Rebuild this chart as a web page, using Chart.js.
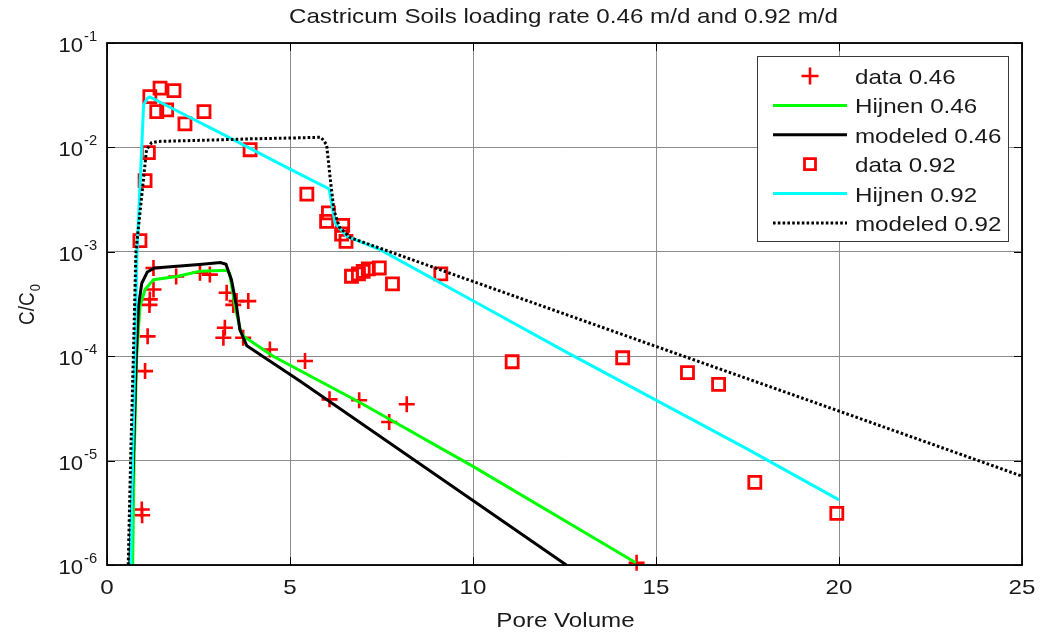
<!DOCTYPE html>
<html>
<head>
<meta charset="utf-8">
<title>Castricum Soils</title>
<script src="https://cdn.jsdelivr.net/npm/chart.js@4.4.1/dist/chart.umd.min.js"></script>
<style>
  html, body { margin: 0; padding: 0; background: #fff; }
  canvas { display: block; }
</style>
</head>
<body>
<canvas id="chart" width="1041" height="634"></canvas>
<script>
// measured breakthrough, loading rate 0.46 m/d
const data46X = [0.95, 0.96, 1.04, 1.11, 1.16, 1.17, 1.27, 1.27, 1.89, 2.54, 2.81, 3.18, 3.22, 3.27, 3.45, 3.54, 3.72, 3.86, 4.45, 5.41, 6.08, 6.89, 7.71, 8.19, 14.47];
const data46Y = [3.4e-6, 3.0e-6, 7.2e-5, 1.55e-4, 3.1e-4, 3.5e-4, 4.35e-4, 7.0e-4, 5.8e-4, 6.3e-4, 6.05e-4, 1.5e-4, 1.87e-4, 4.05e-4, 3.1e-4, 3.37e-4, 1.5e-4, 3.37e-4, 1.16e-4, 9.0e-5, 3.86e-5, 3.78e-5, 2.34e-5, 3.46e-5, 1.05e-6];

const hijnen46X = [0.70, 0.74, 0.81, 0.90, 1.04, 1.27, 1.9, 2.54, 3.27, 3.35, 3.5, 3.65, 3.72, 4.54, 6.91, 10.0, 14.45];
const hijnen46Y = [1e-6, 1e-5, 1e-4, 3.0e-4, 4.35e-4, 5.4e-4, 5.8e-4, 6.5e-4, 6.65e-4, 6.2e-4, 3.0e-4, 1.75e-4, 1.56e-4, 1.0e-4, 3.6e-5, 8.8e-6, 1.05e-6];

const model46X = [0.62, 0.72, 0.80, 0.86, 0.95, 1.1, 1.3, 2.0, 2.6, 3.1, 3.25, 3.4, 3.54, 3.63, 3.82, 5.27, 12.55];
const model46Y = [1e-6, 1e-5, 1e-4, 3.0e-4, 5.0e-4, 6.4e-4, 7.0e-4, 7.3e-4, 7.6e-4, 7.9e-4, 7.6e-4, 5.4e-4, 3.0e-4, 1.8e-4, 1.26e-4, 5.8e-5, 1e-6];

// measured breakthrough, loading rate 0.92 m/d
const data92X = [0.90, 1.04, 1.13, 1.17, 1.36, 1.45, 1.63, 1.83, 2.13, 2.65, 3.91, 5.46, 6.0, 6.05, 6.41, 6.44, 6.53, 6.68, 6.87, 7.0, 7.14, 7.44, 7.8, 9.12, 11.07, 14.09, 15.86, 16.71, 17.7, 19.94];
const data92Y = [1.28e-3, 4.8e-3, 8.9e-3, 0.0307, 0.022, 0.0369, 0.0229, 0.035, 0.0168, 0.022, 9.5e-3, 3.57e-3, 1.96e-3, 2.36e-3, 1.48e-3, 1.79e-3, 1.26e-3, 5.83e-4, 6.14e-4, 6.5e-4, 6.86e-4, 7.0e-4, 4.93e-4, 6.14e-4, 8.85e-5, 9.66e-5, 6.95e-5, 5.37e-5, 6.18e-6, 3.12e-6];

const hijnen92X = [0.65, 0.70, 0.76, 0.82, 0.95, 1.0, 1.1, 1.17, 2, 3, 4, 5, 6.07, 6.23, 6.55, 7.0, 7.46, 10, 12.5, 15, 17.5, 20];
const hijnen92Y = [1e-6, 1e-5, 1e-4, 1e-3, 1e-2, 0.0255, 0.0295, 0.0305, 0.0216, 0.0143, 9.4e-3, 6.2e-3, 4.0e-3, 1.89e-3, 1.41e-3, 1.22e-3, 1.05e-3, 3.4e-4, 1.12e-4, 3.8e-5, 1.29e-5, 4.2e-6];

const model92X = [0.58, 0.645, 0.72, 0.79, 1.08, 1.22, 1.4, 2, 3, 4, 5, 5.85, 6.0, 6.1, 6.2, 6.35, 6.64, 10, 15, 20, 25];
const model92Y = [1e-6, 1e-5, 1e-4, 1e-3, 9.5e-3, 0.0111, 0.0114, 0.01156, 0.0118, 0.0121, 0.0123, 0.0125, 0.0106, 5.0e-3, 2.5e-3, 1.72e-3, 1.37e-3, 5.2e-4, 1.24e-4, 2.98e-5, 7.1e-6];

const xTicks = [0, 5, 10, 15, 20, 25];
const yTicks = [1e-6, 1e-5, 1e-4, 1e-3, 1e-2, 1e-1];
const yExponents = ["-6", "-5", "-4", "-3", "-2", "-1"];

const titleText = "Castricum Soils loading rate 0.46 m/d and 0.92 m/d";
const xLabel = "Pore Volume";
const legendLabels = ["data 0.46", "Hijnen 0.46", "modeled 0.46", "data 0.92", "Hijnen 0.92", "modeled 0.92"];

const FONT = "'Liberation Sans', Arial, Helvetica, sans-serif";
const TEXT = "#1a1a1a";
const STRETCH = 1.15;

function pts(xs, ys) {
  return xs.map((x, i) => ({ x: x, y: ys[i] }));
}

// text with the slightly wide look of the exported figure
function wideText(ctx, str, x, y, size, align, sx) {
  sx = sx || STRETCH;
  ctx.save();
  ctx.font = size + "px " + FONT;
  ctx.fillStyle = TEXT;
  ctx.textBaseline = "alphabetic";
  const w = ctx.measureText(str).width * sx;
  let x0 = x;
  if (align === "center") x0 = x - w / 2;
  else if (align === "right") x0 = x - w;
  ctx.translate(x0, y);
  ctx.scale(sx, 1);
  ctx.textAlign = "left";
  ctx.fillText(str, 0, 0);
  ctx.restore();
  return w;
}

const datasets = [
  {
    label: legendLabels[0], data: pts(data46X, data46Y),
    pointStyle: "cross", pointRadius: 8, borderColor: "#ff0000", pointBorderWidth: 2.6,
    backgroundColor: "#ff0000", showLine: false, clip: false, order: 6
  },
  {
    label: legendLabels[1], data: pts(hijnen46X, hijnen46Y),
    showLine: true, pointRadius: 0, borderColor: "#00ff00", borderWidth: 3, order: 5
  },
  {
    label: legendLabels[2], data: pts(model46X, model46Y),
    showLine: true, pointRadius: 0, borderColor: "#000000", borderWidth: 3, order: 4
  },
  {
    label: legendLabels[3], data: pts(data92X, data92Y),
    pointStyle: "rect", pointRadius: 8.5, borderColor: "#ff0000", pointBorderWidth: 2.8,
    backgroundColor: "rgba(0,0,0,0)", showLine: false, clip: false, order: 3
  },
  {
    label: legendLabels[4], data: pts(hijnen92X, hijnen92Y),
    showLine: true, pointRadius: 0, borderColor: "#00ffff", borderWidth: 3, order: 2
  },
  {
    label: legendLabels[5], data: pts(model92X, model92Y),
    showLine: true, pointRadius: 0, borderColor: "#000000", borderWidth: 3,
    borderDash: [2.6, 2.2], order: 1
  }
];

// axes box, inward ticks, labels and the boxed legend
const framePlugin = {
  id: "frame",
  afterDraw(chart) {
    const ctx = chart.ctx;
    const a = chart.chartArea;
    const xs = chart.scales.x, ys = chart.scales.y;
    const tick = 8;

    ctx.save();
    ctx.strokeStyle = "#000";
    ctx.lineWidth = 1;
    ctx.beginPath();
    xTicks.forEach(v => {
      const px = Math.round(xs.getPixelForValue(v)) + 0.5;
      ctx.moveTo(px, a.bottom); ctx.lineTo(px, a.bottom - tick);
      ctx.moveTo(px, a.top); ctx.lineTo(px, a.top + tick);
    });
    yTicks.forEach(v => {
      const py = Math.round(ys.getPixelForValue(v)) + 0.5;
      ctx.moveTo(a.left, py); ctx.lineTo(a.left + tick, py);
      ctx.moveTo(a.right, py); ctx.lineTo(a.right - tick, py);
    });
    ctx.stroke();
    ctx.lineWidth = 1.8;
    ctx.strokeRect(a.left, a.top, a.right - a.left, a.bottom - a.top);
    ctx.restore();

    // tick labels
    xTicks.forEach(v => {
      wideText(ctx, String(v), xs.getPixelForValue(v), a.bottom + 29, 21, "center");
    });
    yTicks.forEach((v, i) => {
      const py = ys.getPixelForValue(v);
      wideText(ctx, "10", a.left - 24, py + 9, 21, "right", 1.05);
      wideText(ctx, yExponents[i], a.left - 23, py - 2, 14, "left", 1.05);
    });

    // title and axis labels
    wideText(ctx, titleText, (a.left + a.right) / 2 - 1, 23, 21, "center");
    wideText(ctx, xLabel, (a.left + a.right) / 2 + 1, 627, 21, "center");

    ctx.save();
    ctx.translate(34, 305);
    ctx.rotate(-Math.PI / 2);
    ctx.scale(1, STRETCH);
    ctx.font = "19px " + FONT;
    ctx.fillStyle = TEXT;
    const wMain = ctx.measureText("C/C").width;
    ctx.font = "13px " + FONT;
    const wSub = ctx.measureText("0").width;
    const start = -(wMain + wSub) / 2;
    ctx.font = "19px " + FONT;
    ctx.fillText("C/C", start, 0);
    ctx.font = "13px " + FONT;
    ctx.fillText("0", start + wMain + 1, 5);
    ctx.restore();

    // legend box
    const lx = 757, ly = 56, lw = 251, lh = 185;
    ctx.save();
    ctx.fillStyle = "#fff";
    ctx.fillRect(lx, ly, lw, lh);
    ctx.strokeStyle = "#3a3a3a";
    ctx.lineWidth = 1;
    ctx.strokeRect(lx + 0.5, ly + 0.5, lw, lh);
    ctx.restore();

    datasets.forEach((ds, i) => {
      const cy = 76 + i * 29.4;
      ctx.save();
      if (ds.showLine) {
        ctx.strokeStyle = ds.borderColor;
        ctx.lineWidth = ds.borderWidth;
        ctx.setLineDash(ds.borderDash || []);
        ctx.beginPath();
        ctx.moveTo(773, cy);
        ctx.lineTo(847, cy);
        ctx.stroke();
      } else {
        ctx.strokeStyle = ds.borderColor;
        ctx.lineWidth = ds.pointBorderWidth;
        ctx.beginPath();
        if (ds.pointStyle === "cross") {
          ctx.moveTo(810, cy - 8.5); ctx.lineTo(810, cy + 8.5);
          ctx.moveTo(801.5, cy); ctx.lineTo(818.5, cy);
        } else {
          ctx.rect(804.5, cy - 5.5, 11, 11);
        }
        ctx.stroke();
      }
      ctx.restore();
      wideText(ctx, ds.label, 855, cy + 8, 21, "left");
    });
  }
};

const ctx = document.getElementById("chart").getContext("2d");
const chart = new Chart(ctx, {
  type: "scatter",
  data: { datasets: datasets },
  options: {
    responsive: false,
    animation: false,
    devicePixelRatio: 1,
    layout: { padding: { left: 107, top: 43, right: 19, bottom: 69 } },
    elements: { line: { tension: 0, borderCapStyle: "butt" } },
    plugins: {
      legend: { display: false },
      title: { display: false },
      tooltip: { enabled: false }
    },
    scales: {
      x: {
        type: "linear", min: 0, max: 25,
        ticks: { display: false, stepSize: 5 },
        afterBuildTicks: s => { s.ticks = xTicks.map(v => ({ value: v })); },
        grid: { color: "#8c8c8c", lineWidth: 1, drawTicks: false },
        border: { display: false }
      },
      y: {
        type: "logarithmic", min: 1e-6, max: 1e-1,
        ticks: { display: false },
        afterBuildTicks: s => { s.ticks = yTicks.map(v => ({ value: v })); },
        grid: { color: "#8c8c8c", lineWidth: 1, drawTicks: false },
        border: { display: false }
      }
    }
  },
  plugins: [framePlugin]
});
</script>
</body>
</html>
